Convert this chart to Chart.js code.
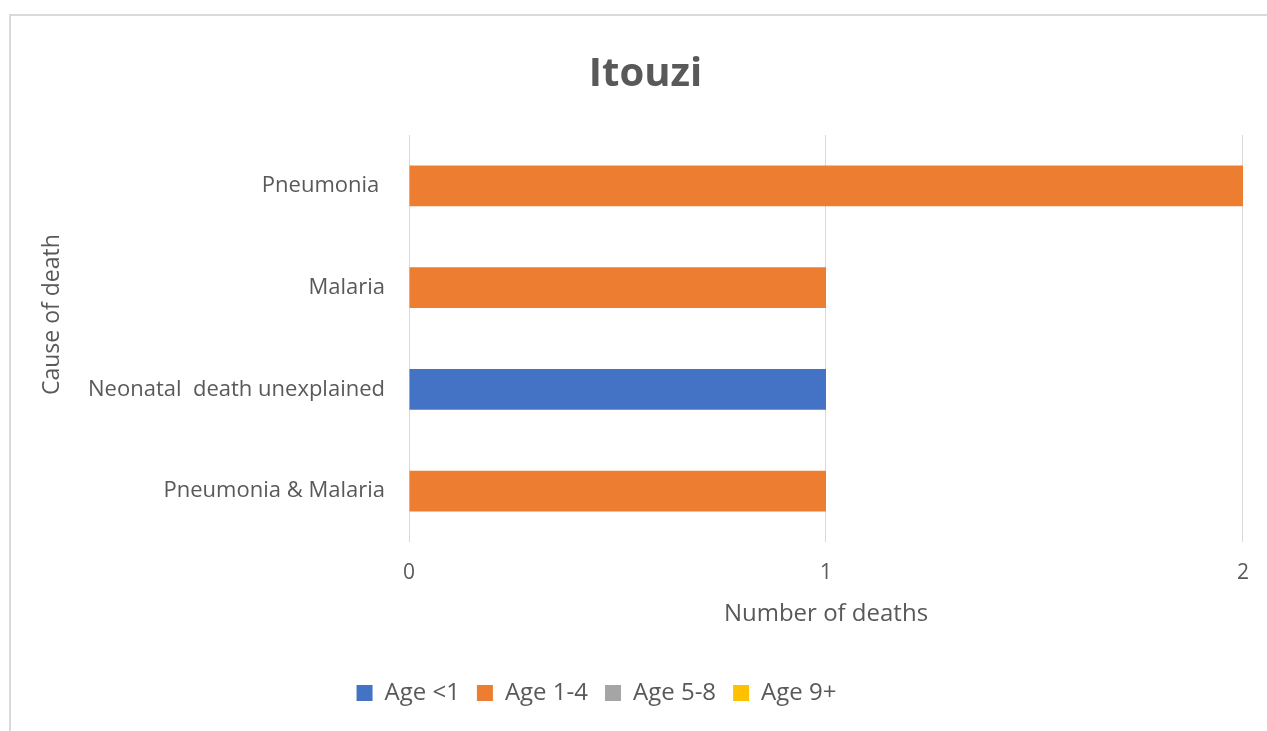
<!DOCTYPE html>
<html>
<head>
<meta charset="utf-8">
<script src="https://cdn.jsdelivr.net/npm/chart.js@4"></script>
<style>
  html, body { margin: 0; padding: 0; background: #fff; }
  body { width: 1267px; height: 731px; position: relative; overflow: hidden; }
  #frame {
    position: absolute; left: 9px; top: 14px; width: 1300px; height: 760px;
    border-left: 2px solid #dadada; border-top: 2px solid #dadada;
  }
  #wrap { position: absolute; left: 0; top: 0; width: 1267px; height: 731px; }
</style>
</head>
<body>
<div id="frame"></div>
<div id="wrap"><canvas id="deathsChart"></canvas></div>
<script>
const causes = ['Pneumonia ', 'Malaria', 'Neonatal  death unexplained', 'Pneumonia & Malaria'];
const ageUnder1 = [0, 0, 1, 0];
const age1to4 = [2, 1, 0, 1];
const age5to8 = [0, 0, 0, 0];
const age9plus = [0, 0, 0, 0];
const xTicks = [0, 1, 2];

const textGrey = '#595959';
const fontFamily = '"Open Sans", Lato, sans-serif';

// the legend in the original sits a bit left of the plot centre
const legendShift = {
    id: 'legendShift',
    afterLayout(chart) {
        if (chart.legend) chart.legend.left -= 98;
    }
};

const ctx = document.getElementById('deathsChart').getContext('2d');
const chart = new Chart(ctx, {
    type: 'bar',
    data: {
        labels: causes,
        datasets: [
            { label: 'Age <1', data: ageUnder1, backgroundColor: '#4472C4' },
            { label: 'Age 1-4', data: age1to4, backgroundColor: '#ED7D31' },
            { label: 'Age 5-8', data: age5to8, backgroundColor: '#A5A5A5' },
            { label: 'Age 9+', data: age9plus, backgroundColor: '#FFC000' }
        ]
    },
    plugins: [legendShift],
    options: {
        indexAxis: 'y',
        responsive: true,
        maintainAspectRatio: false,
        animation: false,
        datasets: {
            bar: { categoryPercentage: 0.4, barPercentage: 1, borderWidth: 0 }
        },
        layout: { padding: { top: 0, left: 48, right: 24, bottom: 16 } },
        plugins: {
            title: {
                display: true,
                text: 'Itouzi',
                color: textGrey,
                font: { family: fontFamily, size: 40, weight: 'bold' },
                padding: { top: 51, bottom: 36 }
            },
            legend: {
                position: 'bottom',
                labels: {
                    color: textGrey,
                    font: { family: fontFamily, size: 24 },
                    boxWidth: 16,
                    boxHeight: 16,
                    padding: 17
                }
            },
            tooltip: { enabled: false }
        },
        scales: {
            x: {
                stacked: true,
                min: 0,
                max: 2,
                afterBuildTicks: (scale) => {
                    scale.ticks = xTicks.map(v => ({ value: v }));
                },
                afterFit: (scale) => { scale.height = 122; },
                grid: { color: '#d9d9d9', drawTicks: false, lineWidth: 1 },
                border: { display: false },
                ticks: {
                    color: textGrey,
                    padding: 18,
                    font: { family: fontFamily, size: 21 }
                },
                title: {
                    display: true,
                    text: 'Number of deaths',
                    color: textGrey,
                    font: { family: fontFamily, size: 24 },
                    padding: { top: 0, bottom: 35 }
                }
            },
            y: {
                stacked: true,
                afterFit: (scale) => { scale.width = 361; },
                grid: { display: false, drawTicks: false },
                border: { display: false },
                ticks: {
                    color: textGrey,
                    padding: 24,
                    font: { family: fontFamily, size: 22 }
                },
                title: {
                    display: true,
                    text: '        Cause of death',
                    color: textGrey,
                    font: { family: fontFamily, size: 23 },
                    padding: { top: -9, bottom: 0 }
                }
            }
        }
    }
});
</script>
</body>
</html>
